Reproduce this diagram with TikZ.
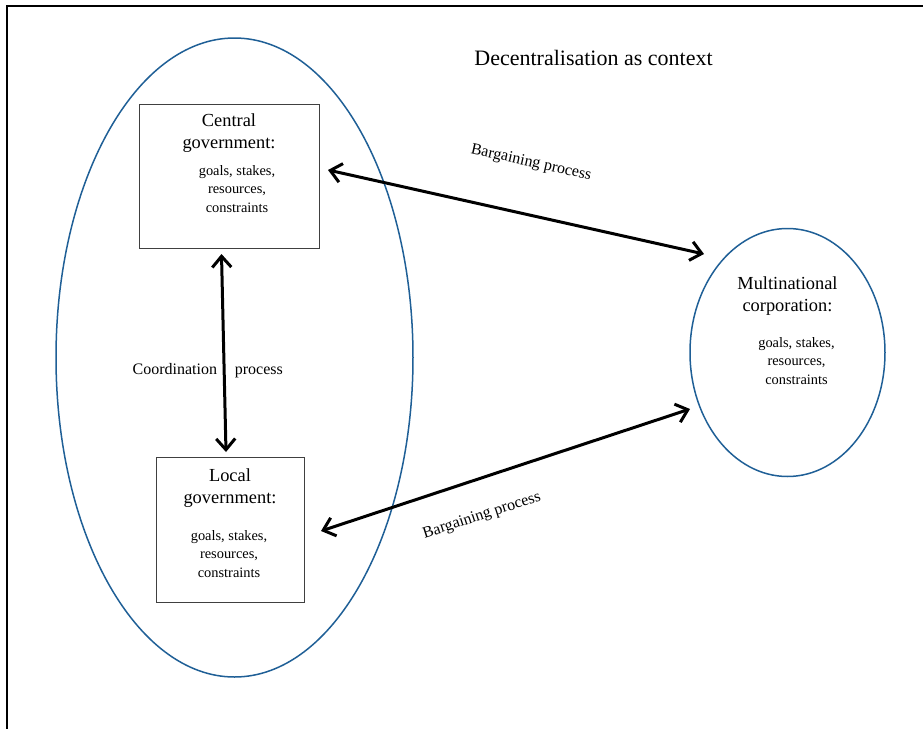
\documentclass[tikz,border=0pt]{standalone}
\usepackage{fontspec}
\setmainfont{Liberation Serif}
\usetikzlibrary{arrows.meta, shapes.geometric}
\definecolor{ovalblue}{RGB}{31,95,150}
\tikzset{
  oval/.style={ellipse, draw=ovalblue, line width=0.75pt, inner sep=0pt},
  actor/.style={rectangle, draw=black!75, line width=0.5pt, inner sep=0pt},
  bigtxt/.style={align=center, font=\fontsize{9.2}{11}\selectfont, inner sep=0pt},
  smalltxt/.style={align=center, font=\fontsize{7.2}{9.4}\selectfont, inner sep=0pt},
  lbl/.style={font=\fontsize{8}{10}\selectfont, inner sep=0pt},
  proc/.style={{Straight Barb[length=5.5pt,width=9.5pt]}-{Straight Barb[length=5.5pt,width=9.5pt]}, line width=1.5pt}
}
\begin{document}
\begin{tikzpicture}[x=0.5pt, y=-0.5pt]
\useasboundingbox (0,0) rectangle (923,729);
\draw[line width=0.75pt] (7,729) -- (7,6) -- (923,6);
\node[oval, minimum width=178.5pt, minimum height=319.5pt] (ctx) at (234.5,357.5){};
\node[oval, minimum width=97.5pt, minimum height=124pt] (mnc) at (787.5,352.5){};
\node[actor, minimum width=90pt, minimum height=72pt] (cg) at (229,176.5){};
\node[actor, minimum width=74pt, minimum height=72.5pt] (lg) at (230,529.5){};
\node[font=\fontsize{11}{13}\selectfont, inner sep=0pt] (title) at (593.5,58){Decentralisation as context};
\node[bigtxt] (cgname) at (229,133){Central\\government:};
\node[smalltxt] (cgdata) at (237,189){goals, stakes,\\resources,\\constraints};
\node[bigtxt] (lgname) at (230,488.5){Local\\government:};
\node[smalltxt] (lgdata) at (229,554){goals, stakes,\\resources,\\constraints};
\node[bigtxt] (mncname) at (787.5,296.5){Multinational\\corporation:};
\node[smalltxt] (mncdata) at (796.5,361){goals, stakes,\\resources,\\constraints};
\coordinate (cgE) at (328,170);
\coordinate (mncW) at (704,254);
\coordinate (cgS) at (221.5,254);
\coordinate (lgN) at (226,452);
\coordinate (lgE) at (321,531);
\coordinate (mncSW) at (690,409);
\draw[proc](cgE) -- (mncW);
\draw[proc](cgS) -- (lgN);
\draw[proc](lgE) -- (mncSW);
\node[lbl, rotate=-12.5] (bp1) at (531,163){Bargaining process};
\node[lbl, rotate=18] (bp2) at (482,516){Bargaining process};
\node[lbl, anchor=base east] (coord) at (217.5,374){Coordination};
\node[lbl, anchor=base west] (proc) at (234.5,374){process};
\end{tikzpicture}
\end{document}
